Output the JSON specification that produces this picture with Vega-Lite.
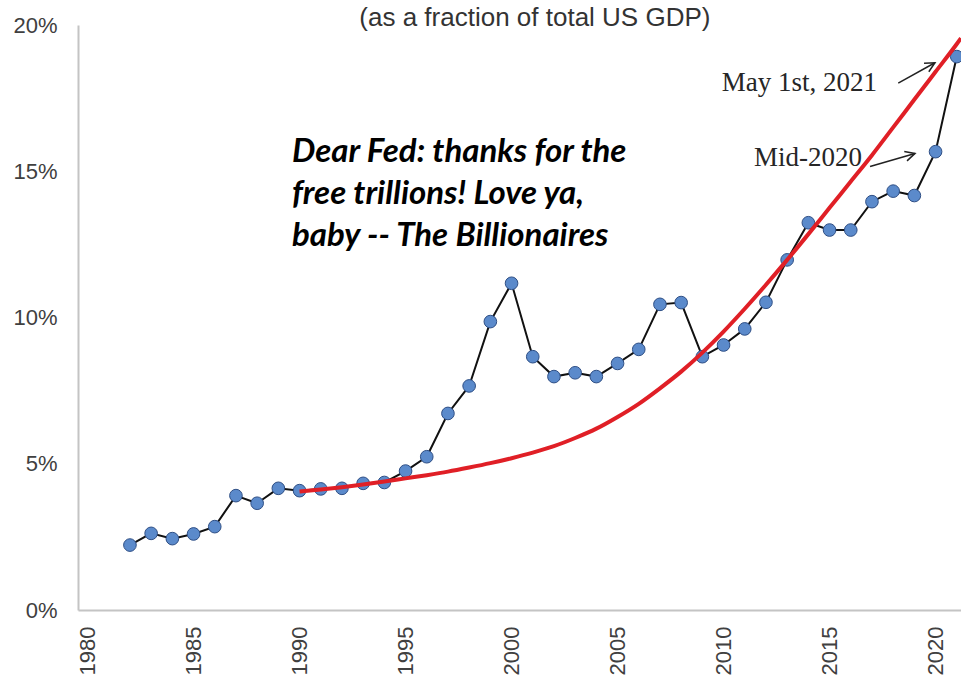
{
  "$schema": "https://vega.github.io/schema/vega-lite/v6.json",
  "width": 883,
  "height": 585,
  "padding": {"left": 78, "top": 25, "right": 0, "bottom": 67},
  "autosize": {"type": "none"},
  "background": "white",
  "config": {
    "view": {"stroke": null},
    "axisX": {
      "labelAngle": -90,
      "labelFont": "Liberation Sans",
      "labelFontSize": 22,
      "labelColor": "#404040",
      "labelPadding": 16,
      "ticks": false,
      "grid": false,
      "domainColor": "#C4C4C4",
      "domainWidth": 2,
      "labelOverlap": false,
      "labelFlush": false
    },
    "axisY": {
      "labelExpr": "datum.value + '%'",
      "labelFont": "Liberation Sans",
      "labelFontSize": 22,
      "labelColor": "#404040",
      "labelPadding": 21,
      "ticks": false,
      "grid": false,
      "domainColor": "#C4C4C4",
      "domainWidth": 2,
      "labelOverlap": false,
      "labelFlush": false
    }
  },
  "datasets": {
    "wealth": [
      {"year": 1982, "pct": 2.22},
      {"year": 1983, "pct": 2.62},
      {"year": 1984, "pct": 2.44},
      {"year": 1985, "pct": 2.6},
      {"year": 1986, "pct": 2.85},
      {"year": 1987, "pct": 3.91},
      {"year": 1988, "pct": 3.65},
      {"year": 1989, "pct": 4.16},
      {"year": 1990, "pct": 4.08},
      {"year": 1991, "pct": 4.14},
      {"year": 1992, "pct": 4.16},
      {"year": 1993, "pct": 4.33},
      {"year": 1994, "pct": 4.36},
      {"year": 1995, "pct": 4.75},
      {"year": 1996, "pct": 5.24},
      {"year": 1997, "pct": 6.72},
      {"year": 1998, "pct": 7.66},
      {"year": 1999, "pct": 9.86},
      {"year": 2000, "pct": 11.17},
      {"year": 2001, "pct": 8.66},
      {"year": 2002, "pct": 7.98},
      {"year": 2003, "pct": 8.11},
      {"year": 2004, "pct": 7.98},
      {"year": 2005, "pct": 8.43},
      {"year": 2006, "pct": 8.91},
      {"year": 2007, "pct": 10.45},
      {"year": 2008, "pct": 10.51},
      {"year": 2009, "pct": 8.66},
      {"year": 2010, "pct": 9.06},
      {"year": 2011, "pct": 9.61},
      {"year": 2012, "pct": 10.52},
      {"year": 2013, "pct": 11.97},
      {"year": 2014, "pct": 13.24},
      {"year": 2015, "pct": 12.99},
      {"year": 2016, "pct": 12.99},
      {"year": 2017, "pct": 13.96},
      {"year": 2018, "pct": 14.32},
      {"year": 2019, "pct": 14.17},
      {"year": 2020, "pct": 15.67},
      {"year": 2021, "pct": 18.92}
    ],
    "trend": [
      {"year": 1990, "pct": 4.05},
      {"year": 1991, "pct": 4.12},
      {"year": 1992, "pct": 4.2},
      {"year": 1993, "pct": 4.29},
      {"year": 1994, "pct": 4.39},
      {"year": 1995, "pct": 4.5},
      {"year": 1996, "pct": 4.61},
      {"year": 1997, "pct": 4.73},
      {"year": 1998, "pct": 4.87},
      {"year": 1999, "pct": 5.02},
      {"year": 2000, "pct": 5.19},
      {"year": 2001, "pct": 5.38},
      {"year": 2002, "pct": 5.6},
      {"year": 2003, "pct": 5.88},
      {"year": 2004, "pct": 6.2},
      {"year": 2005, "pct": 6.6},
      {"year": 2006, "pct": 7.05},
      {"year": 2007, "pct": 7.58},
      {"year": 2008, "pct": 8.15},
      {"year": 2009, "pct": 8.8},
      {"year": 2010, "pct": 9.52},
      {"year": 2011, "pct": 10.3},
      {"year": 2012, "pct": 11.12},
      {"year": 2013, "pct": 11.97},
      {"year": 2014, "pct": 12.85},
      {"year": 2015, "pct": 13.75},
      {"year": 2016, "pct": 14.65},
      {"year": 2017, "pct": 15.55},
      {"year": 2018, "pct": 16.5},
      {"year": 2019, "pct": 17.45},
      {"year": 2020, "pct": 18.4},
      {"year": 2021, "pct": 19.35},
      {"year": 2021.2, "pct": 19.55}
    ]
  },
  "layer": [
    {
      "data": {"name": "wealth"},
      "mark": {"type": "line", "color": "#111111", "strokeWidth": 2},
      "encoding": {
        "x": {"field": "year", "type": "quantitative", "title": null, "scale": {"domain": [1979.55, 2021.2], "nice": false, "zero": false},
              "axis": {"values": [1980, 1985, 1990, 1995, 2000, 2005, 2010, 2015, 2020], "format": "d", "title": null}},
        "y": {"field": "pct", "type": "quantitative", "title": null, "scale": {"domain": [0, 20], "nice": false},
              "axis": {"values": [0, 5, 10, 15, 20], "title": null}}
      }
    },
    {
      "data": {"name": "wealth"},
      "mark": {"type": "point", "shape": "circle", "filled": true, "fill": "#5B8ACB", "stroke": "#2F4F85", "strokeWidth": 1, "size": 160, "opacity": 1},
      "encoding": {
        "x": {"field": "year", "type": "quantitative", "title": null, "scale": {"domain": [1979.55, 2021.2], "nice": false, "zero": false}},
        "y": {"field": "pct", "type": "quantitative", "title": null, "scale": {"domain": [0, 20], "nice": false}}
      }
    },
    {
      "data": {"name": "trend"},
      "mark": {"type": "line", "color": "#E01F26", "strokeWidth": 4, "interpolate": "monotone", "clip": true},
      "encoding": {
        "x": {"field": "year", "type": "quantitative", "title": null, "scale": {"domain": [1979.55, 2021.2], "nice": false, "zero": false}},
        "y": {"field": "pct", "type": "quantitative", "title": null, "scale": {"domain": [0, 20], "nice": false}}
      }
    },
    {
      "data": {"values": [{}]},
      "mark": {"type": "text", "text": "(as a fraction of total US GDP)", "font": "Liberation Sans", "fontSize": 26, "color": "#333333", "align": "center", "baseline": "middle"},
      "encoding": {
        "x": {"datum": 2001.1, "type": "quantitative", "title": null, "scale": {"domain": [1979.55, 2021.2], "nice": false, "zero": false}},
        "y": {"datum": 20.24, "type": "quantitative", "title": null, "scale": {"domain": [0, 20], "nice": false}}
      }
    },
    {
      "data": {"values": [{}]},
      "mark": {"type": "text", "text": ["Dear Fed: thanks for the", "free trillions! Love ya,", "baby -- The Billionaires"], "font": "Lato", "fontSize": 33, "fontStyle": "italic", "fontWeight": "bold", "color": "#000000", "align": "left", "baseline": "middle", "lineHeight": 42},
      "encoding": {
        "x": {"datum": 1989.64, "type": "quantitative", "title": null, "scale": {"domain": [1979.55, 2021.2], "nice": false, "zero": false}},
        "y": {"datum": 15.66, "type": "quantitative", "title": null, "scale": {"domain": [0, 20], "nice": false}}
      }
    },
    {
      "data": {"values": [{}]},
      "mark": {"type": "text", "text": "May 1st, 2021", "font": "Liberation Serif", "fontSize": 27, "color": "#262626", "align": "center", "baseline": "middle"},
      "encoding": {
        "x": {"datum": 2013.58, "type": "quantitative", "title": null, "scale": {"domain": [1979.55, 2021.2], "nice": false, "zero": false}},
        "y": {"datum": 18.02, "type": "quantitative", "title": null, "scale": {"domain": [0, 20], "nice": false}}
      }
    },
    {
      "data": {"values": [{}]},
      "mark": {"type": "text", "text": "Mid-2020", "font": "Liberation Serif", "fontSize": 27, "color": "#262626", "align": "center", "baseline": "middle"},
      "encoding": {
        "x": {"datum": 2013.98, "type": "quantitative", "title": null, "scale": {"domain": [1979.55, 2021.2], "nice": false, "zero": false}},
        "y": {"datum": 15.45, "type": "quantitative", "title": null, "scale": {"domain": [0, 20], "nice": false}}
      }
    },
    {
      "data": {"values": [{}]},
      "mark": {"type": "rule", "color": "#222222", "strokeWidth": 1.5},
      "encoding": {
        "x": {"datum": 2018.24, "type": "quantitative", "title": null, "scale": {"domain": [1979.55, 2021.2], "nice": false, "zero": false}},
        "y": {"datum": 18.01, "type": "quantitative", "title": null, "scale": {"domain": [0, 20], "nice": false}},
        "x2": {"datum": 2019.97},
        "y2": {"datum": 18.71}
      }
    },
    {
      "data": {"values": [{}]},
      "mark": {"type": "rule", "color": "#222222", "strokeWidth": 1.5},
      "encoding": {
        "x": {"datum": 2016.91, "type": "quantitative", "title": null, "scale": {"domain": [1979.55, 2021.2], "nice": false, "zero": false}},
        "y": {"datum": 15.16, "type": "quantitative", "title": null, "scale": {"domain": [0, 20], "nice": false}},
        "x2": {"datum": 2019.03},
        "y2": {"datum": 15.61}
      }
    },
    {
      "data": {"values": [{}]},
      "mark": {"type": "point", "shape": "M -1 -0.5 L 0 0 L -1 0.5", "filled": false, "stroke": "#222222", "strokeWidth": 1.5, "size": 380, "angle": 330.7, "opacity": 1},
      "encoding": {
        "x": {"datum": 2019.97, "type": "quantitative", "title": null, "scale": {"domain": [1979.55, 2021.2], "nice": false, "zero": false}},
        "y": {"datum": 18.71, "type": "quantitative", "title": null, "scale": {"domain": [0, 20], "nice": false}}
      }
    },
    {
      "data": {"values": [{}]},
      "mark": {"type": "point", "shape": "M -1 -0.5 L 0 0 L -1 0.5", "filled": false, "stroke": "#222222", "strokeWidth": 1.5, "size": 380, "angle": 343.4, "opacity": 1},
      "encoding": {
        "x": {"datum": 2019.03, "type": "quantitative", "title": null, "scale": {"domain": [1979.55, 2021.2], "nice": false, "zero": false}},
        "y": {"datum": 15.61, "type": "quantitative", "title": null, "scale": {"domain": [0, 20], "nice": false}}
      }
    }
  ]
}
